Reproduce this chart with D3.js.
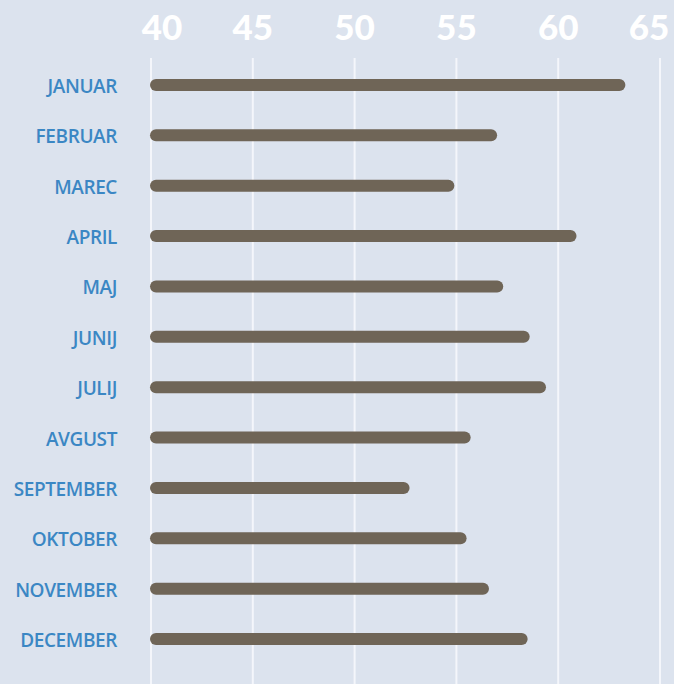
<!DOCTYPE html>
<html>
<head>
<meta charset="utf-8">
<script src="https://cdn.jsdelivr.net/npm/d3@7"></script>
<style>
  html, body { margin: 0; padding: 0; background: #dce3ee; }
  svg { display: block; }
</style>
</head>
<body>
<script>
var months = ["JANUAR", "FEBRUAR", "MAREC", "APRIL", "MAJ", "JUNIJ", "JULIJ",
              "AVGUST", "SEPTEMBER", "OKTOBER", "NOVEMBER", "DECEMBER"];
var values = [63.3, 57.0, 54.9, 60.9, 57.3, 58.6, 59.4, 55.7, 52.7, 55.5, 56.6, 58.5];
var ticks = [40, 45, 50, 55, 60, 65];

var width = 674,
    height = 684,
    barHeight = 12;

var svg = d3.select("body").append("svg")
    .attr("width", width)
    .attr("height", height);

svg.append("rect")
    .attr("width", width)
    .attr("height", height)
    .attr("fill", "#dce3ee");

var x = d3.scaleLinear()
    .domain([40, 65])
    .range([151, 660]);

var y = d3.scalePoint()
    .domain(months)
    .range([85, 639]);

// grid lines
svg.append("g")
  .selectAll("line")
  .data(ticks)
  .join("line")
    .attr("x1", d => x(d))
    .attr("x2", d => x(d))
    .attr("y1", 58)
    .attr("y2", height)
    .attr("stroke", "#f4f6fb")
    .attr("stroke-width", 2);

// top axis labels (the outer ones are pulled inward to fit)
svg.append("g")
  .selectAll("text")
  .data(ticks)
  .join("text")
    .attr("x", d => Math.max(162, Math.min(649, x(d))))
    .attr("y", 40)
    .attr("text-anchor", "middle")
    .attr("fill", "#ffffff")
    .style("font-family", "Lato, sans-serif")
    .style("font-weight", 900)
    .style("font-size", "35px")
    .text(d => d);

// bars
svg.append("g")
  .selectAll("rect")
  .data(values)
  .join("rect")
    .attr("x", x(40) - 1)
    .attr("y", (d, i) => y(months[i]) - barHeight / 2)
    .attr("width", d => x(d) - x(40) + 1)
    .attr("height", barHeight)
    .attr("rx", barHeight / 2)
    .attr("fill", "#6f6557");

// month labels
svg.append("g")
  .selectAll("text")
  .data(months)
  .join("text")
    .attr("x", 117)
    .attr("y", d => y(d) + 8)
    .attr("text-anchor", "end")
    .attr("fill", "#3b87c4")
    .style("font-family", "'Open Sans', sans-serif")
    .style("font-weight", 600)
    .style("font-size", "19px")
    .style("letter-spacing", "-0.4px")
    .text(d => d);
</script>
</body>
</html>
